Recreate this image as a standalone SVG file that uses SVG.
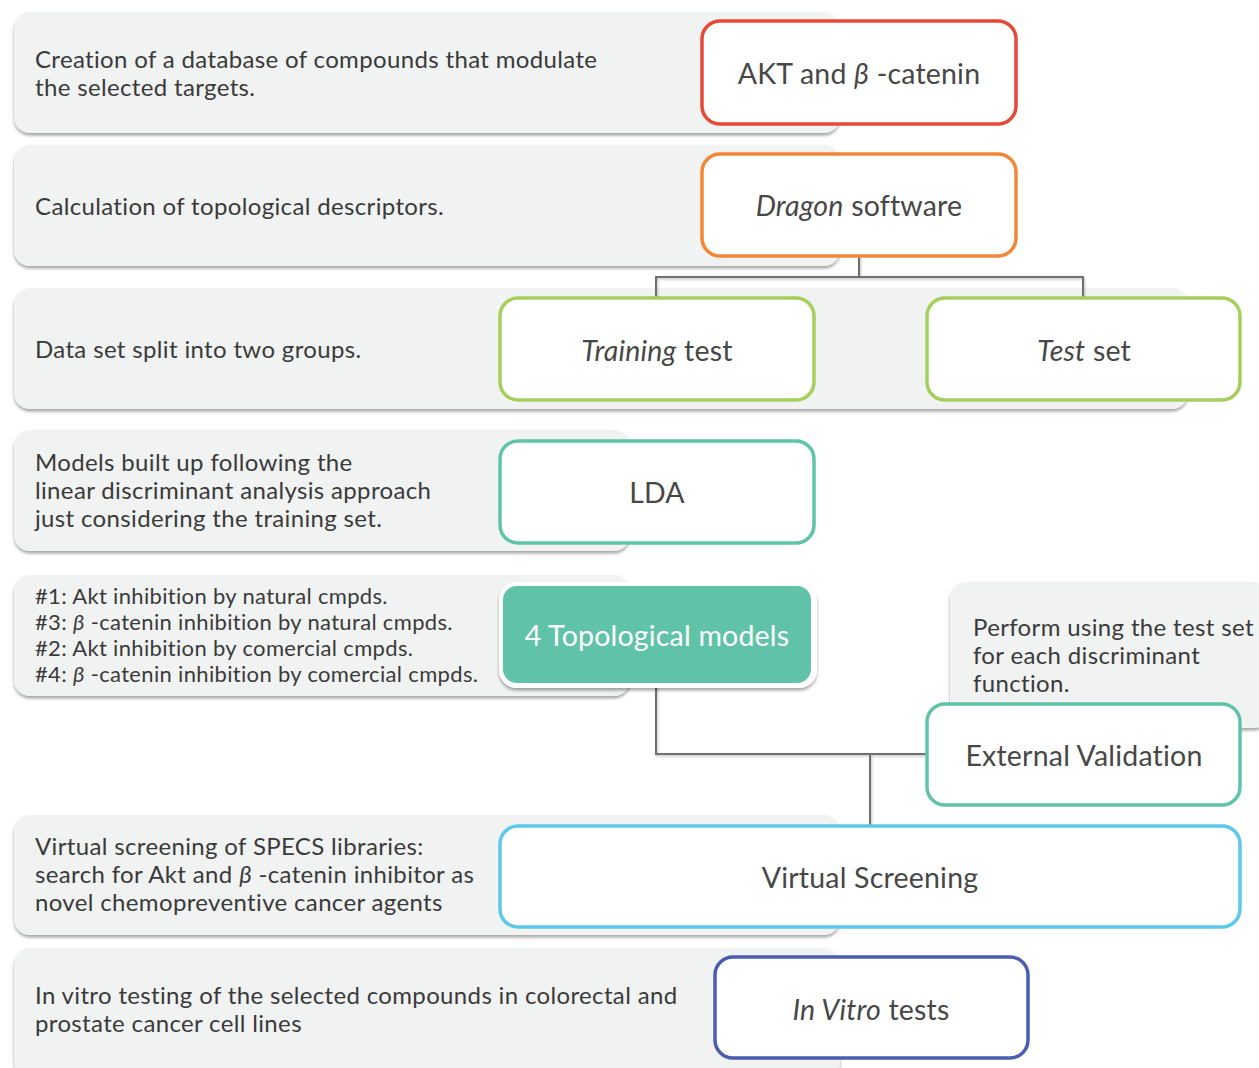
<svg xmlns="http://www.w3.org/2000/svg" width="1259" height="1068" viewBox="0 0 1259 1068">
<defs>
<filter id="sh" x="-5%" y="-10%" width="110%" height="130%">
<feDropShadow dx="0" dy="2.5" stdDeviation="1.5" flood-color="#000" flood-opacity="0.35"/>
</filter>
<filter id="lsh" x="-10%" y="-10%" width="120%" height="120%">
<feDropShadow dx="1" dy="1.5" stdDeviation="0.8" flood-color="#000" flood-opacity="0.25"/>
</filter>
<style>
.panel{fill:#f1f2f2;filter:url(#sh)}
.desc{font-family:Lato,"Open Sans",sans-serif;font-size:24px;letter-spacing:0.35px;fill:#3a3a3a}
.small{font-size:22px;letter-spacing:0.33px}
.node{fill:#fff;stroke-width:3.5}
.lbl{font-family:Lato,"Open Sans",sans-serif;font-size:28.5px;letter-spacing:0.2px;fill:#474747;text-anchor:middle}
.conn{fill:none;stroke:#707070;stroke-width:2;filter:url(#lsh)}
.it{font-style:italic}
</style>
</defs>
<rect width="1259" height="1068" fill="#fff"/>

<g id="panels">
<rect class="panel" x="14" y="12" width="826" height="121" rx="16"/>
<rect class="panel" x="14" y="145" width="826" height="121" rx="16"/>
<rect class="panel" x="14" y="288" width="1174" height="121" rx="16"/>
<rect class="panel" x="14" y="430" width="616" height="121" rx="16"/>
<rect class="panel" x="14" y="575" width="616" height="121" rx="16"/>
<rect class="panel" x="950" y="582" width="320" height="146" rx="16"/>
<rect class="panel" x="14" y="815" width="826" height="120" rx="16"/>
<rect class="panel" x="14" y="948" width="826" height="130" rx="16"/>
</g>

<g id="descriptions">
<text class="desc" x="35" y="68">Creation of a database of compounds that modulate</text>
<text class="desc" x="35" y="96">the selected targets.</text>
<text class="desc" x="35" y="215">Calculation of topological descriptors.</text>
<text class="desc" x="35" y="358">Data set split into two groups.</text>
<text class="desc" x="35" y="471">Models built up following the</text>
<text class="desc" x="35" y="499">linear discriminant analysis approach</text>
<text class="desc" x="35" y="527">just considering the training set.</text>
<text class="desc small" x="35" y="604">#1: Akt inhibition by natural cmpds.</text>
<text class="desc small" x="35" y="630">#3: <tspan class="it">β</tspan> -catenin inhibition by natural cmpds.</text>
<text class="desc small" x="35" y="656">#2: Akt inhibition by comercial cmpds.</text>
<text class="desc small" x="35" y="682">#4: <tspan class="it">β</tspan> -catenin inhibition by comercial cmpds.</text>
<text class="desc" x="973" y="636">Perform using the test set</text>
<text class="desc" x="973" y="664">for each discriminant</text>
<text class="desc" x="973" y="692">function.</text>
<text class="desc" x="35" y="855">Virtual screening of SPECS libraries:</text>
<text class="desc" x="35" y="883">search for Akt and <tspan class="it">β</tspan> -catenin inhibitor as</text>
<text class="desc" x="35" y="911">novel chemopreventive cancer agents</text>
<text class="desc" x="35" y="1004">In vitro testing of the selected compounds in colorectal and</text>
<text class="desc" x="35" y="1032">prostate cancer cell lines</text>
</g>

<g id="connectors">
<path class="conn" d="M859 125 V153"/>
<path class="conn" d="M859 256 V277 M656 297 V277 H1083 V297"/>
<path class="conn" d="M656 401 V440"/>
<path class="conn" d="M656 543 V586"/>
<path class="conn" d="M656 683 V754 H926 M870 754 V825"/>
<path class="conn" d="M1083 401 V582"/>
<path class="conn" d="M871 928 V956"/>
</g>

<g id="n-akt">
<rect class="node" x="702" y="21" width="314" height="103" rx="18" stroke="#e64a36"/>
<text class="lbl" x="859" y="84">AKT and <tspan class="it">β</tspan> -catenin</text>
</g>
<g id="n-dragon">
<rect class="node" x="702" y="154" width="314" height="102" rx="18" stroke="#f38637"/>
<text class="lbl" x="859" y="216"><tspan class="it">Dragon</tspan> software</text>
</g>
<g id="n-training">
<rect class="node" x="500" y="298" width="314" height="102" rx="18" stroke="#a4cf5b"/>
<text class="lbl" x="657" y="361"><tspan class="it">Training</tspan> test</text>
</g>
<g id="n-testset">
<rect class="node" x="927" y="298" width="313" height="102" rx="18" stroke="#a4cf5b"/>
<text class="lbl" x="1084" y="361"><tspan class="it">Test</tspan> set</text>
</g>
<g id="n-lda">
<rect class="node" x="500" y="441" width="314" height="102" rx="18" stroke="#5fc3a7"/>
<text class="lbl" x="657" y="503">LDA</text>
</g>
<g id="n-topo">
<rect x="499" y="582" width="318" height="106" rx="18" fill="#fff" filter="url(#sh)"/>
<rect x="503" y="586" width="308" height="97" rx="14" fill="#60c3a9"/>
<text class="lbl" x="657" y="646" style="fill:#fff">4 Topological models</text>
</g>
<g id="n-extval">
<rect class="node" x="927" y="704" width="313" height="101" rx="18" stroke="#5fc3a7"/>
<text class="lbl" x="1084" y="766">External Validation</text>
</g>
<g id="n-vs">
<rect class="node" x="500" y="826" width="740" height="101" rx="18" stroke="#5cc8ea"/>
<text class="lbl" x="870" y="888">Virtual Screening</text>
</g>
<g id="n-invitro">
<rect class="node" x="715" y="957" width="313" height="101" rx="18" stroke="#4a5db0"/>
<text class="lbl" x="871" y="1020"><tspan class="it">In Vitro</tspan> tests</text>
</g>
</svg>
